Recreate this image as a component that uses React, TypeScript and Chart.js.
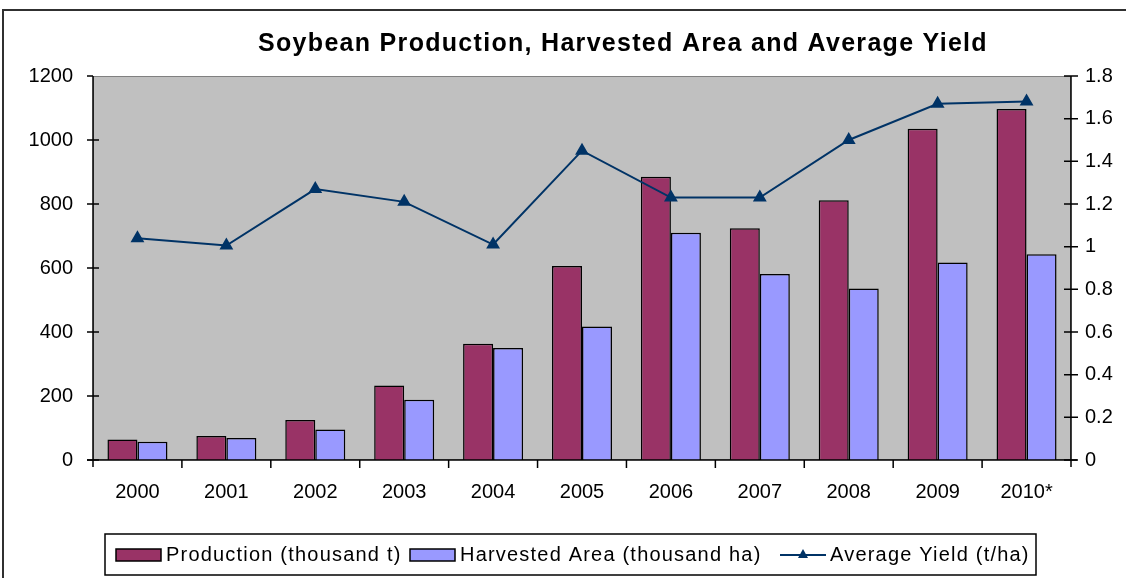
import React, { useEffect, useRef } from 'react';
import { Chart, registerables } from 'chart.js';

Chart.register(...registerables);

const years = ['2000', '2001', '2002', '2003', '2004', '2005', '2006', '2007', '2008', '2009', '2010*'];
const production = [64, 75, 125, 233, 363, 606, 885, 724, 812, 1035, 1097];
const harvested = [57, 69, 95, 188, 350, 417, 710, 581, 536, 617, 643];
const avgYield = [1.04, 1.005, 1.27, 1.21, 1.01, 1.45, 1.23, 1.23, 1.5, 1.67, 1.68];
const leftTicks = [0, 200, 400, 600, 800, 1000, 1200];
const leftTickLabels = ['0', '200', '400', '600', '800', '1000', '1200'];
const rightTicks = [0, 0.2, 0.4, 0.6, 0.8, 1, 1.2, 1.4, 1.6, 1.8];
const rightTickLabels = ['0', '0.2', '0.4', '0.6', '0.8', '1', '1.2', '1.4', '1.6', '1.8'];
const chartTitle = 'Soybean Production, Harvested Area and Average Yield';
const seriesLabels = ['Production (thousand t)', 'Harvested Area (thousand ha)', 'Average Yield (t/ha)'];
const colors = { production: '#993366', harvested: '#9999FF', yield: '#003366', plot: '#C0C0C0' };

const FONT = '"Liberation Sans", Arial, sans-serif';

const decorPlugin = {
  id: 'decor',
  beforeDraw(chart: any) {
    const { ctx, chartArea: a, width, height } = chart;
    ctx.save();
    ctx.fillStyle = '#ffffff';
    ctx.fillRect(0, 0, width, height);
    ctx.strokeStyle = '#303030';
    ctx.lineWidth = 2;
    ctx.strokeRect(3, 10, width + 20, height + 20);
    ctx.fillStyle = colors.plot;
    ctx.fillRect(a.left, a.top, a.right - a.left, a.bottom - a.top);
    ctx.strokeStyle = '#808080';
    ctx.lineWidth = 1;
    ctx.strokeRect(a.left + 0.5, a.top + 0.5, a.right - a.left - 1, a.bottom - a.top - 1);
    ctx.restore();
  },
  afterDatasetsDraw(chart: any) {
    const { ctx, chartArea: a, scales } = chart;
    ctx.save();
    ctx.strokeStyle = '#000';
    ctx.lineWidth = 1.5;
    ctx.beginPath();
    ctx.moveTo(a.left, a.top);
    ctx.lineTo(a.left, a.bottom + 7);
    ctx.moveTo(a.right, a.top);
    ctx.lineTo(a.right, a.bottom + 7);
    ctx.moveTo(a.left - 6, a.bottom);
    ctx.lineTo(a.right + 6, a.bottom);
    ctx.stroke();
    ctx.beginPath();
    leftTicks.forEach((v) => {
      const y = scales.y.getPixelForValue(v);
      ctx.moveTo(a.left - 6, y);
      ctx.lineTo(a.left + (v === 1200 ? 0 : 6), y);
    });
    rightTicks.forEach((v) => {
      const y = scales.y1.getPixelForValue(v);
      ctx.moveTo(a.right - 7, y);
      ctx.lineTo(a.right + 7, y);
    });
    const n = years.length;
    const step = (a.right - a.left) / n;
    for (let k = 1; k < n; k++) {
      const x = a.left + step * k;
      ctx.moveTo(x, a.bottom);
      ctx.lineTo(x, a.bottom + 8);
    }
    ctx.stroke();
    ctx.restore();
  },
  afterDraw(chart: any) {
    const { ctx } = chart;
    ctx.save();
    ctx.fillStyle = '#000';
    ctx.font = `bold 25px ${FONT}`;
    (ctx as any).letterSpacing = '1.3px';
    ctx.textAlign = 'center';
    ctx.textBaseline = 'middle';
    ctx.fillText(chartTitle, 623, 44);

    ctx.strokeStyle = '#000';
    ctx.lineWidth = 1.5;
    ctx.strokeRect(105, 534, 931, 41);
    ctx.font = `20px ${FONT}`;
    (ctx as any).letterSpacing = '1.2px';
    ctx.textAlign = 'left';
    ctx.textBaseline = 'middle';
    const ly = 555;
    ctx.fillStyle = colors.production;
    ctx.fillRect(116, 549, 45, 12);
    ctx.strokeRect(116, 549, 45, 12);
    ctx.fillStyle = '#000';
    ctx.fillText(seriesLabels[0], 166, ly);
    ctx.fillStyle = colors.harvested;
    ctx.fillRect(410, 549, 45, 12);
    ctx.strokeRect(410, 549, 45, 12);
    ctx.fillStyle = '#000';
    ctx.fillText(seriesLabels[1], 460, ly);
    ctx.strokeStyle = colors.yield;
    ctx.lineWidth = 2;
    ctx.beginPath();
    ctx.moveTo(780, ly);
    ctx.lineTo(826, ly);
    ctx.stroke();
    ctx.fillStyle = colors.yield;
    ctx.beginPath();
    ctx.moveTo(803, ly - 6);
    ctx.lineTo(808, ly + 3);
    ctx.lineTo(798, ly + 3);
    ctx.closePath();
    ctx.fill();
    ctx.fillStyle = '#000';
    ctx.fillText(seriesLabels[2], 830, ly);
    ctx.restore();
  },
};

export default function App() {
  const ref = useRef<HTMLCanvasElement | null>(null);
  useEffect(() => {
    document.body.style.margin = '0';
    const canvas = ref.current;
    if (!canvas) return;
    const chart = new Chart(canvas, {
      type: 'bar',
      data: {
        labels: years,
        datasets: [
          {
            type: 'line',
            label: seriesLabels[2],
            data: avgYield,
            yAxisID: 'y1',
            borderColor: colors.yield,
            backgroundColor: colors.yield,
            borderWidth: 2,
            pointStyle: 'triangle',
            pointRadius: 6,
            pointBackgroundColor: colors.yield,
            pointBorderColor: colors.yield,
            tension: 0,
            order: 0,
          } as any,
          {
            type: 'bar',
            label: seriesLabels[0],
            data: production,
            yAxisID: 'y',
            backgroundColor: colors.production,
            borderColor: '#000',
            borderWidth: 1.5,
            categoryPercentage: 0.675,
            barPercentage: 1,
            order: 1,
          },
          {
            type: 'bar',
            label: seriesLabels[1],
            data: harvested,
            yAxisID: 'y',
            backgroundColor: colors.harvested,
            borderColor: '#000',
            borderWidth: 1.5,
            categoryPercentage: 0.675,
            barPercentage: 1,
            order: 1,
          },
        ],
      },
      plugins: [decorPlugin],
      options: {
        animation: false,
        responsive: false,
        devicePixelRatio: 1,
        layout: { padding: { top: 76, left: 0, right: 0, bottom: 0 } },
        plugins: {
          legend: { display: false },
          title: { display: false },
          tooltip: { enabled: false },
        },
        scales: {
          x: {
            offset: true,
            grid: { display: false, drawTicks: false },
            border: { display: false },
            ticks: { color: '#000', font: { family: FONT, size: 20 }, padding: 20, maxRotation: 0 },
            afterFit: (s: any) => { s.height = 118; },
          },
          y: {
            position: 'left',
            min: 0,
            max: 1200,
            grid: { display: false, drawTicks: false },
            border: { display: false },
            ticks: {
              color: '#000',
              font: { family: FONT, size: 20 },
              padding: 20,
              callback: (v: any) => {
                const i = leftTicks.indexOf(Number(v));
                return i >= 0 ? leftTickLabels[i] : String(v);
              },
            },
            afterBuildTicks: (s: any) => { s.ticks = leftTicks.map((v) => ({ value: v })); },
            afterFit: (s: any) => { s.width = 93; },
          },
          y1: {
            position: 'right',
            min: 0,
            max: 1.8,
            grid: { display: false, drawTicks: false },
            border: { display: false },
            ticks: {
              color: '#000',
              font: { family: FONT, size: 20 },
              padding: 14,
              callback: (v: any) => {
                const i = rightTicks.findIndex((t) => Math.abs(t - v) < 1e-9);
                return i >= 0 ? rightTickLabels[i] : String(v);
              },
            },
            afterBuildTicks: (s: any) => { s.ticks = rightTicks.map((v) => ({ value: v })); },
            afterFit: (s: any) => { s.width = 55; },
          },
        },
      },
    });
    return () => chart.destroy();
  }, []);
  return (
    <div style={{ width: 1126, height: 578 }}>
      <canvas ref={ref} width={1126} height={578} style={{ display: 'block' }} />
    </div>
  );
}
